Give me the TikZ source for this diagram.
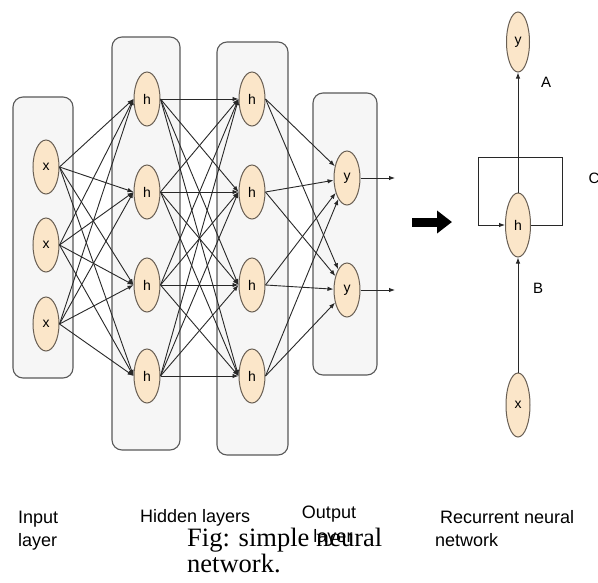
\documentclass[tikz,border=0pt]{standalone}
\usepackage{fontspec}
\setmainfont{Liberation Sans}
\newfontfamily\capfont{Liberation Serif}
\usetikzlibrary{arrows.meta,shapes.geometric}
\definecolor{unitfill}{RGB}{251,230,201}
\definecolor{unitdraw}{RGB}{105,95,84}
\definecolor{boxfill}{RGB}{246,246,246}
\definecolor{wire}{RGB}{40,40,40}
\tikzset{
	unit/.style={ellipse, draw=unitdraw, line width=1pt, fill=unitfill, inner sep=0pt, minimum width=26pt, minimum height=54pt, font=\fontsize{14}{14}\selectfont},
	layerbox/.style={draw=black!65, line width=1.1pt, fill=boxfill, rounded corners=10pt},
	wirearrow/.style={wire, line width=0.9pt, -{Latex[length=6pt,width=4.5pt]}},
	lbltext/.style={inner sep=0pt, font=\fontsize{18}{18}\selectfont},
	tagtext/.style={inner sep=0pt, font=\fontsize{15}{15}\selectfont},
	captext/.style={inner sep=0pt, font=\capfont\fontsize{26.5}{26.5}\selectfont}
}

\begin{document}
\begin{tikzpicture}[x=1pt, y=-1pt]
		%%%%% START %%%%%
		\useasboundingbox (0,0) rectangle (598,582);
		\fill[white] (0,0) rectangle (598,582);
		
		\draw[layerbox] (13,97) rectangle (73,378);
		\draw[layerbox] (112,37) rectangle (180,450);
		\draw[layerbox] (217,42) rectangle (288,455);
		\draw[layerbox] (313,93) rectangle (377,375);
		
		\node[unit] (x1) at (46,167) {x};
		\node[unit] (x2) at (46,245) {x};
		\node[unit] (x3) at (46,324) {x};
		\foreach \i/\y in {1/99,2/192,3/285,4/376} {
			\node[unit] (ha\i) at (147,\y) {h};
			\node[unit] (hb\i) at (252,\y) {h};
		}
		\node[unit] (y1) at (347,178) {y};
		\node[unit] (y2) at (347,290) {y};
		
		\foreach \i in {1,2,3} \foreach \j in {1,...,4} \draw[wirearrow] (x\i.east) -- (ha\j.west);
		\foreach \i in {1,...,4} \foreach \j in {1,...,4} \draw[wirearrow] (ha\i.east) -- (hb\j.west);
		\foreach \i in {1,...,4} \foreach \j in {1,2} \draw[wirearrow] (hb\i.east) -- (y\j);
		
		\coordinate (out1) at (395,178);
		\coordinate (out2) at (395,290);
		\draw[wirearrow] (y1.east) -- (out1);
		\draw[wirearrow] (y2.east) -- (out2);
		
		% big arrow
		\coordinate (bigA) at (412,222);
		\coordinate (bigB) at (452,222);
		\draw[line width=9pt, -{Triangle[length=15pt,width=22pt]}] (bigA) -- (bigB);
		
		% recurrent net
		\node[unit, minimum width=23pt, minimum height=60pt] (ry) at (518,42) {y};
		\node[unit, minimum width=25pt, minimum height=64pt] (rh) at (518,225) {h};
		\node[unit, minimum width=24pt, minimum height=64pt] (rx) at (518,405) {x};
		\draw[wirearrow] (rx) -- (rh);
		\draw[wirearrow] (rh) -- (ry);
		\coordinate (loopR) at (562,157);
		\coordinate (loopL) at (478,157);
		\draw[wirearrow] (rh.east) -| (loopR) -- (loopL) |- (rh.west);
		
		\node[tagtext] (tagA) at (546,82) {A};
		\node[tagtext] (tagB) at (538,288) {B};
		\node[tagtext] (tagC) at (594,178) {C};
		
		% captions
		\node[lbltext, anchor=base west] (capIn) at (18,523) {Input};
		\node[lbltext, anchor=base west] (capIn2) at (18,546) {layer};
		\node[lbltext, anchor=base west] (capHid) at (140,522) {Hidden layers};
		\node[lbltext, anchor=base] (capOut) at (329,518) {Output};
		\node[lbltext, anchor=base] (capOut2) at (333,542) {layer};
		\node[lbltext, anchor=base west] (capRnn) at (440,523) {Recurrent neural};
		\node[lbltext, anchor=base west] (capRnn2) at (435,546) {network};
		\node[captext, anchor=base west] (fig1) at (187,546) {Fig: simple neural};
		\node[captext, anchor=base west] (fig2) at (187,572) {network.};
		
		%%%%% END %%%%%
	\end{tikzpicture}
\end{document}
